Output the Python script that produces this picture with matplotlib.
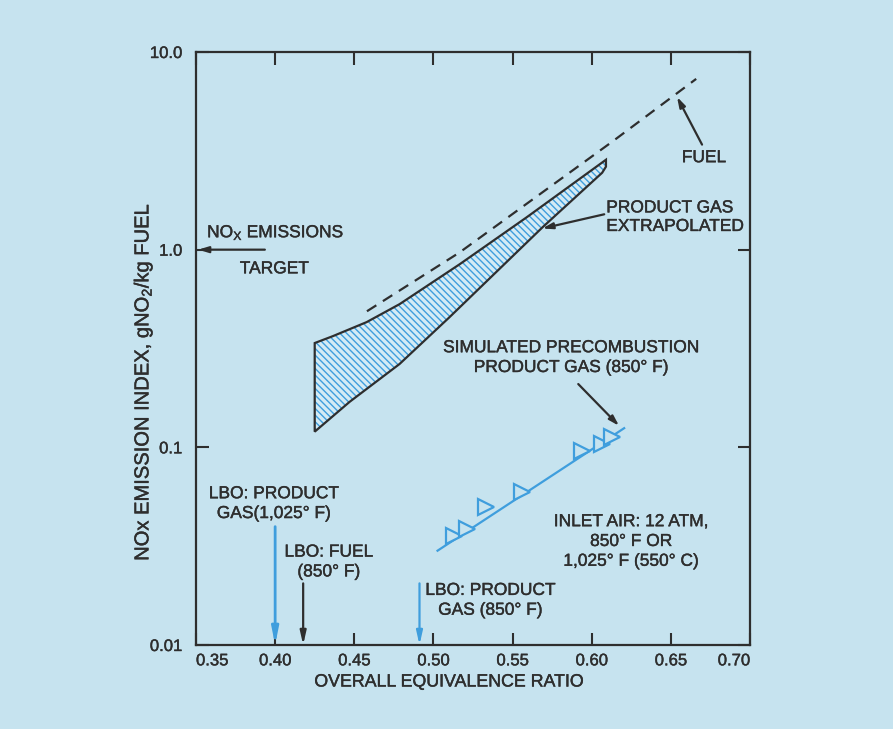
import matplotlib
matplotlib.use("Agg")
import matplotlib.pyplot as plt
import matplotlib.patheffects as pe
from matplotlib.patches import Polygon

# ---- data ---------------------------------------------------------------
# Fuel (dashed) correlation
fuel_phi = [0.458, 0.5165, 0.613, 0.666]
fuel_ei = [0.488, 0.968, 3.52, 7.31]

# Product gas, extrapolated band (upper and lower boundaries)
band_upper_phi = [0.425, 0.4364, 0.4578, 0.4786, 0.5165, 0.5587, 0.609]
band_upper_ei = [0.337, 0.365, 0.430, 0.530, 0.843, 1.454, 2.85]
band_lower_phi = [0.425, 0.4471, 0.4786, 0.5101, 0.5688, 0.6066, 0.609]
band_lower_ei = [0.120, 0.170, 0.264, 0.455, 1.295, 2.45, 2.63]

# Simulated precombustion product gas (850 F): fit line and test points
sim_line_phi = [0.5026, 0.6205]
sim_line_ei = [0.030, 0.125]
sim_pts_phi = [0.5133, 0.5215, 0.5335, 0.5562, 0.594, 0.6066, 0.613]
sim_pts_ei = [0.0354, 0.0388, 0.0501, 0.0597, 0.096, 0.104, 0.113]

# Lean blowout limits
lbo_prod_1025 = 0.400
lbo_fuel_850 = 0.4177
lbo_prod_850 = 0.4912

nox_target = 1.0

x_ticks = [0.35, 0.40, 0.45, 0.50, 0.55, 0.60, 0.65, 0.70]
x_ticklabels = ["0.35", "0.40", "0.45", "0.50", "0.55", "0.60", "0.65", "0.70"]
y_ticks = [0.01, 0.1, 1.0, 10.0]
y_ticklabels = ["0.01", "0.1", "1.0", "10.0"]

# ---- style --------------------------------------------------------------
BG = "#c6e3ef"
INK = "#2e2e2e"
BLUE = "#3f9edd"

plt.rcParams["font.family"] = ["Liberation Sans", "DejaVu Sans"]
plt.rcParams["mathtext.fontset"] = "custom"
plt.rcParams["mathtext.rm"] = "Liberation Sans"
plt.rcParams["mathtext.it"] = "Liberation Sans"
plt.rcParams["hatch.linewidth"] = 1.0

# slightly heavier lettering
BOLDEN = [pe.withStroke(linewidth=0.3, foreground=INK)]

W, H = 893, 729
fig = plt.figure(figsize=(W / 100, H / 100), dpi=100, facecolor=BG)
ax = fig.add_axes([196 / W, 1 - 645 / H, (750 - 196) / W, (645 - 52) / H])
ax.set_facecolor(BG)

ax.set_xlim(0.35, 0.70)
ax.set_yscale("log")
ax.set_ylim(0.01, 10.0)

for s in ax.spines.values():
    s.set_linewidth(1.6)
    s.set_color(INK)

# ticks
ax.set_xticks(x_ticks)
ax.set_xticklabels(x_ticklabels)
ax.set_yticks(y_ticks)
ax.set_yticklabels(y_ticklabels)
ax.minorticks_off()
ax.tick_params(axis="both", direction="in", length=9, width=1.5, color=INK,
               labelsize=12, labelcolor=INK, top=True, right=True)
ax.tick_params(axis="x", pad=6)
ax.tick_params(axis="y", pad=10)
xl = ax.get_xticklabels()
xl[0].set_ha("left")
xl[-1].set_ha("right")
for lab in ax.get_xticklabels() + ax.get_yticklabels():
    lab.set_path_effects(BOLDEN)

# product gas band: blue hatching, then dark outline
band_pts = list(zip(band_upper_phi, band_upper_ei)) + \
    list(zip(band_lower_phi[::-1], band_lower_ei[::-1]))
ax.add_patch(Polygon(band_pts, closed=True, facecolor="#d4ebf5",
                     edgecolor=BLUE, hatch="\\" * 5, linewidth=0, zorder=3))
ax.add_patch(Polygon(band_pts, closed=True, fill=False, edgecolor=INK,
                     linewidth=1.6, joinstyle="miter", zorder=4))

# fuel dashed line
ax.plot(fuel_phi, fuel_ei, color=INK, lw=1.6, ls=(0, (5, 3.5)), zorder=4)

# simulated precombustion product gas
ax.plot(sim_line_phi, sim_line_ei, color=BLUE, lw=1.6, zorder=4)
ax.plot(sim_pts_phi, sim_pts_ei, ls="none", marker=">", ms=11,
        mfc=BG, mec=BLUE, mew=1.6, zorder=5)

TXT = dict(color=INK, fontsize=12.5, path_effects=BOLDEN)
ARW = dict(arrowstyle="-|>,head_length=0.6,head_width=0.18",
           color=INK, lw=1.6, shrinkA=0, shrinkB=0)

# NOx target arrow
ax.annotate("", xy=(0.3513, nox_target), xytext=(0.3935, nox_target),
            arrowprops=ARW)
ax.text(0.357, 1.22, r"NO$_\mathrm{X}$ EMISSIONS", ha="left", va="center", **TXT)
ax.text(0.3995, 0.80, "TARGET", ha="center", va="center", **TXT)

# fuel label
ax.text(0.6709, 2.92, "FUEL", ha="center", va="center", **TXT)
ax.annotate("", xy=(0.6539, 5.93), xytext=(0.6697, 3.40), arrowprops=ARW)

# product gas extrapolated label
ax.text(0.6092, 1.46, "PRODUCT GAS\nEXTRAPOLATED", ha="left", va="center",
        linespacing=1.3, **TXT)
ax.annotate("", xy=(0.5688, 1.28), xytext=(0.6079, 1.51), arrowprops=ARW)

# simulated precombustion label
ax.text(0.587, 0.2844, "SIMULATED PRECOMBUSTION\nPRODUCT GAS (850° F)",
        ha="center", va="center", linespacing=1.4, **TXT)
ax.annotate("", xy=(0.6173, 0.1284), xytext=(0.5915, 0.209), arrowprops=ARW)

# inlet conditions
ax.text(0.6249, 0.0334, "INLET AIR: 12 ATM,\n850° F OR\n1,025° F (550° C)",
        ha="center", va="center", linespacing=1.4, **TXT)

# lean blowout markers
ax.text(0.3992, 0.0519, "LBO: PRODUCT\nGAS(1,025° F)", ha="center", va="center",
        linespacing=1.4, **TXT)
ax.annotate("", xy=(lbo_prod_1025, 0.01), xytext=(lbo_prod_1025, 0.0397),
            arrowprops=dict(arrowstyle="-|>,head_length=1.0,head_width=0.2",
                            color=BLUE, lw=2.0, shrinkA=0, shrinkB=0))

ax.text(0.4339, 0.0263, "LBO: FUEL\n(850° F)", ha="center", va="center",
        linespacing=1.4, **TXT)
ax.annotate("", xy=(lbo_fuel_850, 0.01), xytext=(lbo_fuel_850, 0.0205),
            arrowprops=dict(arrowstyle="-|>,head_length=0.8,head_width=0.18",
                            color=INK, lw=1.6, shrinkA=0, shrinkB=0))

ax.text(0.536, 0.01683, "LBO: PRODUCT\nGAS (850° F)", ha="center", va="center",
        linespacing=1.4, **TXT)
ax.annotate("", xy=(lbo_prod_850, 0.01), xytext=(lbo_prod_850, 0.0205),
            arrowprops=dict(arrowstyle="-|>,head_length=0.8,head_width=0.18",
                            color=BLUE, lw=1.6, shrinkA=0, shrinkB=0))

# axis titles
fig.text(449 / W, 1 - 682 / H, "OVERALL EQUIVALENCE RATIO", ha="center",
         va="center", color=INK, fontsize=12.8, path_effects=BOLDEN)
fig.text(143 / W, 1 - 382 / H, r"NOx EMISSION INDEX, gNO$_2$/kg FUEL",
         rotation=90, ha="center", va="center", color=INK, fontsize=14.5,
         path_effects=BOLDEN)

fig.savefig("out.png", dpi=100, facecolor=BG)
